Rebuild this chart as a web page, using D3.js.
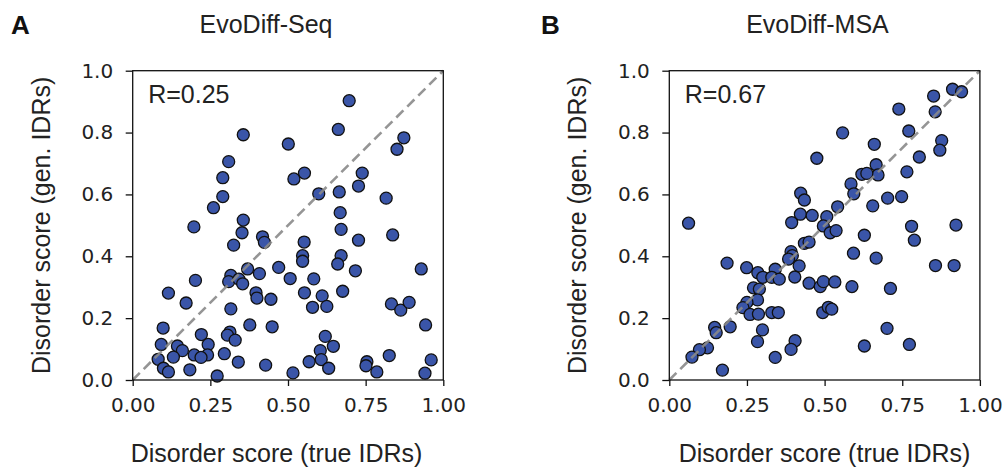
<!DOCTYPE html>
<html><head><meta charset="utf-8">
<script src="https://cdn.jsdelivr.net/npm/d3@7"></script>
<style>body{margin:0;background:#fff}svg{display:block}</style>
</head><body>
<script>
const tickValuesX = [0, 0.25, 0.5, 0.75, 1.0];
const tickLabelsX = ["0.00", "0.25", "0.50", "0.75", "1.00"];
const tickValuesY = [0, 0.2, 0.4, 0.6, 0.8, 1.0];
const tickLabelsY = ["0.0", "0.2", "0.4", "0.6", "0.8", "1.0"];
const panelLetters = ["A", "B"];
const panelTitles = ["EvoDiff-Seq", "EvoDiff-MSA"];
const correlations = ["R=0.25", "R=0.67"];
const xLabel = "Disorder score (true IDRs)";
const yLabel = "Disorder score (gen. IDRs)";

const xSeq = [0.697,0.356,0.662,0.501,0.873,0.851,0.309,0.290,0.553,0.519,0.739,0.727,0.290,0.599,0.665,0.816,0.260,0.356,0.668,0.197,
0.352,0.418,0.424,0.671,0.837,0.325,0.552,0.727,0.547,0.547,0.671,0.660,0.717,0.929,0.470,0.370,0.408,0.316,0.309,0.342,0.354,0.202,0.507,0.583,0.115,0.172,0.397,0.400,0.445,0.553,0.610,0.676,0.579,0.625,0.316,0.833,0.863,0.890,0.943,0.098,0.221,0.377,0.449,0.313,0.305,0.330,0.620,0.092,0.144,0.160,0.243,0.241,0.198,0.220,0.131,0.082,0.099,0.115,0.184,0.272,0.295,0.340,0.428,0.516,0.568,0.604,0.607,0.631,0.646,0.754,0.751,0.786,0.826,0.961,0.941];
const ySeq = [0.903,0.793,0.810,0.763,0.783,0.746,0.706,0.654,0.669,0.650,0.669,0.627,0.593,0.602,0.608,0.588,0.557,0.517,0.541,0.495,
0.476,0.463,0.445,0.487,0.469,0.436,0.446,0.452,0.402,0.384,0.402,0.375,0.353,0.359,0.364,0.359,0.344,0.338,0.318,0.326,0.311,0.322,0.328,0.327,0.281,0.249,0.282,0.265,0.261,0.282,0.272,0.287,0.235,0.238,0.230,0.246,0.226,0.251,0.178,0.168,0.147,0.178,0.172,0.155,0.145,0.129,0.141,0.115,0.110,0.095,0.115,0.081,0.081,0.073,0.074,0.067,0.038,0.026,0.033,0.013,0.085,0.058,0.048,0.023,0.059,0.095,0.066,0.038,0.109,0.059,0.046,0.026,0.079,0.065,0.022];

const xMsa = [0.912,0.941,0.851,0.856,0.739,0.558,0.771,0.877,0.871,0.660,0.805,0.475,0.666,0.672,0.620,0.636,0.765,0.585,0.594,0.423,0.435,0.542,0.655,0.703,0.748,0.422,0.460,0.507,0.394,0.062,0.780,0.923,
0.496,0.518,0.537,0.628,0.789,0.435,0.450,0.392,0.396,0.384,0.593,0.666,0.857,0.917,0.186,0.249,0.285,0.301,0.341,0.330,0.354,0.418,0.404,0.450,0.486,0.496,0.533,0.588,0.712,0.271,0.290,0.284,0.250,0.237,0.260,0.287,0.330,0.351,0.494,0.512,0.523,0.146,0.151,0.196,0.300,0.284,0.405,0.392,0.341,0.628,0.701,0.773,0.123,0.097,0.073,0.171];
const yMsa = [0.940,0.932,0.918,0.867,0.876,0.799,0.805,0.774,0.743,0.762,0.721,0.717,0.696,0.663,0.665,0.668,0.673,0.634,0.602,0.604,0.582,0.560,0.563,0.588,0.593,0.536,0.532,0.528,0.509,0.507,0.497,0.501,
0.498,0.476,0.483,0.468,0.452,0.442,0.446,0.415,0.402,0.391,0.410,0.394,0.370,0.370,0.378,0.363,0.347,0.332,0.358,0.332,0.326,0.369,0.333,0.313,0.302,0.318,0.317,0.302,0.296,0.298,0.294,0.259,0.251,0.234,0.212,0.213,0.218,0.218,0.218,0.235,0.229,0.170,0.153,0.172,0.162,0.124,0.127,0.099,0.073,0.110,0.167,0.115,0.104,0.098,0.074,0.032];

const W = 1005, H = 468;
const svg = d3.select("body").append("svg").attr("width", W).attr("height", H);

const panels = [
  {left: 132.7, xs: xSeq, ys: ySeq, letterX: 11, titleX: 266, xlabX: 276.5, ylabX: 50},
  {left: 669.3, xs: xMsa, ys: yMsa, letterX: 541, titleX: 817.5, xlabX: 824.5, ylabX: 586}
];
const plotTop = 70.7, pw = 310.6, ph = 309.3;
const txtFont = "'Liberation Sans', Arial, sans-serif";
const tickFont = "'DejaVu Sans', sans-serif";

panels.forEach((p, i) => {
  const x = d3.scaleLinear().domain([0, 1]).range([p.left, p.left + pw]);
  const y = d3.scaleLinear().domain([0, 1]).range([plotTop + ph, plotTop]);
  const g = svg.append("g");

  // points
  g.append("g").selectAll("circle")
    .data(d3.range(p.xs.length))
    .join("circle")
    .attr("cx", k => x(p.xs[k]))
    .attr("cy", k => y(p.ys[k]))
    .attr("r", 6)
    .attr("fill", "#3a55a8")
    .attr("stroke", "#111")
    .attr("stroke-width", 1.3);

  // diagonal
  g.append("line")
    .attr("x1", x(0)).attr("y1", y(0)).attr("x2", x(1)).attr("y2", y(1))
    .attr("stroke", "#8a8a8a").attr("stroke-width", 2.6)
    .attr("stroke-dasharray", "10,5.5").attr("opacity", 0.9);

  // axes
  const xAxis = d3.axisBottom(x).tickValues(tickValuesX)
    .tickFormat((d, k) => tickLabelsX[k]).tickSize(6).tickPadding(5).tickSizeOuter(0);
  const gx = g.append("g").attr("transform", `translate(0,${plotTop + ph})`).call(xAxis);
  const yAxis = d3.axisLeft(y).tickValues(tickValuesY)
    .tickFormat((d, k) => tickLabelsY[k]).tickSize(7).tickPadding(12.5).tickSizeOuter(0);
  const gy = g.append("g").attr("transform", `translate(${p.left},0)`).call(yAxis);
  [gx, gy].forEach(ax => {
    ax.select(".domain").remove();
    ax.selectAll(".tick line").attr("stroke", "#111").attr("stroke-width", 1.3);
    ax.selectAll(".tick text").attr("font-family", tickFont).attr("font-size", 20).attr("fill", "#222");
  });
  gx.selectAll(".tick text").attr("dy", "0.71em").attr("y", 17.5);

  // frame
  g.append("rect").attr("x", p.left).attr("y", plotTop).attr("width", pw).attr("height", ph)
    .attr("fill", "none").attr("stroke", "#111").attr("stroke-width", 1.3);

  // texts
  svg.append("text").attr("x", p.letterX).attr("y", 33.5)
    .attr("font-family", txtFont).attr("font-weight", "bold").attr("font-size", 26)
    .attr("fill", "#111").text(panelLetters[i]);
  svg.append("text").attr("x", p.titleX).attr("y", 33).attr("text-anchor", "middle")
    .attr("font-family", txtFont).attr("font-size", 25).attr("fill", "#222").text(panelTitles[i]);
  svg.append("text").attr("x", p.left + 15.5).attr("y", 102.7)
    .attr("font-family", txtFont).attr("font-size", 25).attr("fill", "#222").text(correlations[i]);
  svg.append("text").attr("x", p.xlabX).attr("y", 461.5).attr("text-anchor", "middle")
    .attr("font-family", txtFont).attr("font-size", 25).attr("fill", "#222").text(xLabel);
  svg.append("text").attr("transform", `translate(${p.ylabX},${plotTop + ph / 2}) rotate(-90)`)
    .attr("text-anchor", "middle")
    .attr("font-family", txtFont).attr("font-size", 25).attr("fill", "#222").text(yLabel);
});
</script>
</body></html>
